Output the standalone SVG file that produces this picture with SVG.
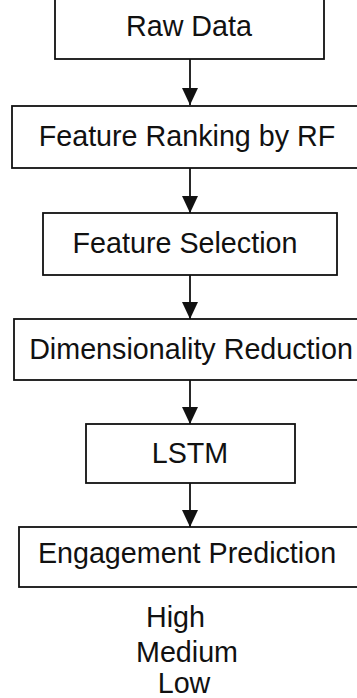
<svg xmlns="http://www.w3.org/2000/svg" width="357" height="698" viewBox="0 0 357 698">
<style>
.box{fill:#fff;stroke:#111;stroke-width:1.8}
.lbl{font-family:"Liberation Sans",Arial,sans-serif;font-size:28.7px;fill:#111;text-anchor:middle}
.conn{stroke:#111;stroke-width:1.8;fill:none;marker-end:url(#ah)}
</style>
<defs>
<marker id="ah" markerWidth="17" markerHeight="16" refX="17" refY="8" orient="auto" markerUnits="userSpaceOnUse">
<path d="M0,0 L17,8 L0,16 Z" fill="#111"/>
</marker>
</defs>
<rect width="357" height="698" fill="#fff"/>
<g id="connectors">
<line class="conn" x1="190" y1="59" x2="190" y2="105"/>
<line class="conn" x1="190" y1="168" x2="190" y2="213"/>
<line class="conn" x1="190" y1="275" x2="190" y2="319"/>
<line class="conn" x1="190" y1="380" x2="190" y2="424"/>
<line class="conn" x1="190" y1="483" x2="190" y2="527"/>
</g>
<g id="raw-data">
<rect class="box" x="55" y="-10" width="269" height="69"/>
<text class="lbl" x="189" y="36">Raw Data</text>
</g>
<g id="feature-ranking">
<rect class="box" x="12" y="106" width="360" height="62"/>
<text class="lbl" x="187" y="146">Feature Ranking by RF</text>
</g>
<g id="feature-selection">
<rect class="box" x="43" y="213" width="294" height="62"/>
<text class="lbl" x="185" y="253">Feature Selection</text>
</g>
<g id="dimensionality-reduction">
<rect class="box" x="14" y="319" width="360" height="61"/>
<text class="lbl" x="191" y="359">Dimensionality Reduction</text>
</g>
<g id="lstm">
<rect class="box" x="86" y="424" width="209" height="59"/>
<text class="lbl" x="190" y="463">LSTM</text>
</g>
<g id="engagement-prediction">
<rect class="box" x="19" y="527" width="360" height="60"/>
<text class="lbl" x="187" y="563">Engagement Prediction</text>
</g>
<g id="classes">
<text class="lbl" x="175.5" y="627">High</text>
<text class="lbl" x="187" y="662">Medium</text>
<text class="lbl" x="184" y="693">Low</text>
</g>
</svg>
